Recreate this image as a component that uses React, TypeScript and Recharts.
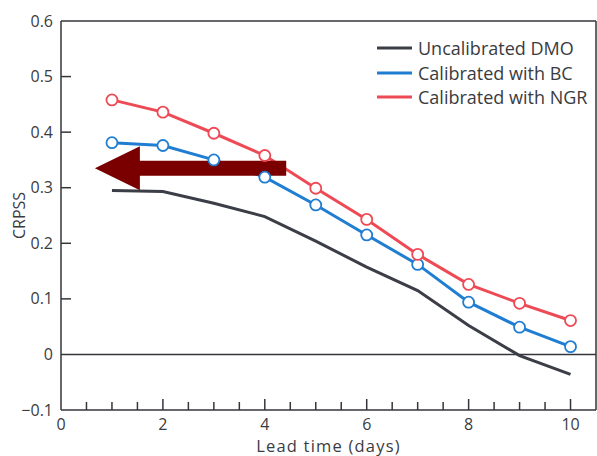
import React from 'react';
import { LineChart, Line, XAxis, YAxis, ReferenceLine, Legend } from 'recharts';

// lead time (days) and CRPSS per method
const leadDays = [1, 2, 3, 4, 5, 6, 7, 8, 9, 10];
const dmoScores = [0.295, 0.293, 0.272, 0.248, 0.204, 0.157, 0.115, 0.052, -0.002, -0.036];
const bcScores = [0.381, 0.376, 0.35, 0.319, 0.269, 0.215, 0.162, 0.094, 0.049, 0.014];
const ngrScores = [0.458, 0.436, 0.398, 0.358, 0.299, 0.243, 0.18, 0.126, 0.092, 0.061];

const seriesKeys = ['dmo', 'bc', 'ngr'];
const seriesNames = ['Uncalibrated DMO', 'Calibrated with BC', 'Calibrated with NGR'];
const seriesColors = ['#3b3e46', '#1f7dd2', '#ee4a55'];

const xTicks = [0, 0.5, 1, 1.5, 2, 2.5, 3, 3.5, 4, 4.5, 5, 5.5, 6, 6.5, 7, 7.5, 8, 8.5, 9, 9.5, 10];
const xLabelTicks = [0, 2, 4, 6, 8, 10];
const yTicks = [-0.1, 0, 0.1, 0.2, 0.3, 0.4, 0.5, 0.6];

// annotation arrow (data coords): tail on the right, tip on the left
const arrowTail = { x: 4.42, y: 0.335 };
const arrowTip = { x: 0.665, y: 0.335 };

const FONT = '"Open Sans", sans-serif';
const AXIS = '#34363b';
const TEXT = '#3a3b3f';

const data = leadDays.map((day, i) => ({
  day,
  dmo: dmoScores[i],
  bc: bcScores[i],
  ngr: ngrScores[i],
}));

const XTick = (props: any) => {
  const { x, y, payload } = props;
  const v = payload.value;
  const labelled = xLabelTicks.includes(v);
  return (
    <g>
      {v > 0 && (
        <line x1={x} y1={y} x2={x} y2={y - (labelled ? 11 : 8)} stroke={AXIS} strokeWidth={1.5} />
      )}
      {labelled && (
        <text x={x} y={y + 20} textAnchor="middle" fontFamily={FONT} fontSize={16} fill={TEXT}>
          {v}
        </text>
      )}
    </g>
  );
};

const YTick = (props: any) => {
  const { x, y, payload } = props;
  const v = payload.value;
  const label = v < 0 ? '\u2212' + Math.abs(v).toFixed(1) : v === 0 ? '0' : v.toFixed(1);
  return (
    <g>
      {v > 0 && v < 0.6 && <line x1={x} y1={y} x2={x + 10} y2={y} stroke={AXIS} strokeWidth={1.5} />}
      <text x={x - 8} y={y + 5.5} textAnchor="end" fontFamily={FONT} fontSize={16} fill={TEXT}>
        {label}
      </text>
    </g>
  );
};

const Arrow = (props: any) => {
  const { x1, y1, x2 } = props;
  const y = y1;
  const head = 45;
  const pts = [
    [x2, y],
    [x2 + head, y - 22],
    [x2 + head, y - 7.5],
    [x1, y - 7.5],
    [x1, y + 7.5],
    [x2 + head, y + 7.5],
    [x2 + head, y + 22],
  ]
    .map((p) => p.join(','))
    .join(' ');
  return <polygon points={pts} fill="#7a0000" />;
};

const renderLegend = () => (
  <div style={{ fontFamily: FONT, fontSize: 18, color: TEXT, lineHeight: 1 }}>
    {seriesNames.map((name, i) => (
      <div key={name} style={{ display: 'flex', alignItems: 'center', height: 24.5 }}>
        <svg width={35} height={4} style={{ display: 'block' }}>
          <line x1={0} y1={2} x2={35} y2={2} stroke={seriesColors[i]} strokeWidth={3} />
        </svg>
        <span style={{ marginLeft: 6, whiteSpace: 'nowrap' }}>{name}</span>
      </div>
    ))}
  </div>
);

export default function App() {
  return (
    <div style={{ position: 'absolute', left: 0, top: 0, background: '#fff' }}>
      <LineChart width={597} height={456} data={data} margin={{ top: 21, right: 1, bottom: 0, left: 0 }}>
        <XAxis
          type="number"
          dataKey="day"
          domain={[0, 10.5]}
          ticks={xTicks}
          interval={0}
          height={46}
          tickLine={false}
          tickSize={0}
          tickMargin={0}
          tick={<XTick />}
          axisLine={{ stroke: AXIS, strokeWidth: 1.5 }}
          label={{
            value: 'Lead time (days)',
            position: 'insideBottom',
            offset: 4.5,
            style: { fontFamily: FONT, fontSize: 16.5, fill: TEXT, letterSpacing: 1.2 },
          }}
        />
        <YAxis
          type="number"
          domain={[-0.1, 0.6]}
          ticks={yTicks}
          interval={0}
          width={61}
          tickLine={false}
          tickSize={0}
          tickMargin={0}
          tick={<YTick />}
          axisLine={{ stroke: AXIS, strokeWidth: 1.5 }}
          label={{
            value: 'CRPSS',
            angle: -90,
            position: 'insideLeft',
            offset: 19,
            style: { fontFamily: FONT, fontSize: 16, fill: TEXT, textAnchor: 'middle' },
          }}
        />
        <ReferenceLine y={0.6} stroke={AXIS} strokeWidth={1.5} />
        <ReferenceLine x={10.5} stroke={AXIS} strokeWidth={1.5} />
        <ReferenceLine y={0} stroke={AXIS} strokeWidth={1.5} />
        <Legend
          layout="horizontal"
          verticalAlign="middle"
          align="center"
          content={renderLegend}
          wrapperStyle={{ top: 36, left: 377, width: 'auto' }}
        />
        {seriesKeys.map((key, i) => (
          <Line
            key={key}
            type="linear"
            dataKey={key}
            name={seriesNames[i]}
            stroke={seriesColors[i]}
            strokeWidth={3}
            dot={i === 0 ? false : { r: 5.5, fill: '#fff', stroke: seriesColors[i], strokeWidth: 1.8 }}
            activeDot={false}
            isAnimationActive={false}
          />
        ))}
        <ReferenceLine segment={[arrowTail, arrowTip]} shape={<Arrow />} />
      </LineChart>
    </div>
  );
}
